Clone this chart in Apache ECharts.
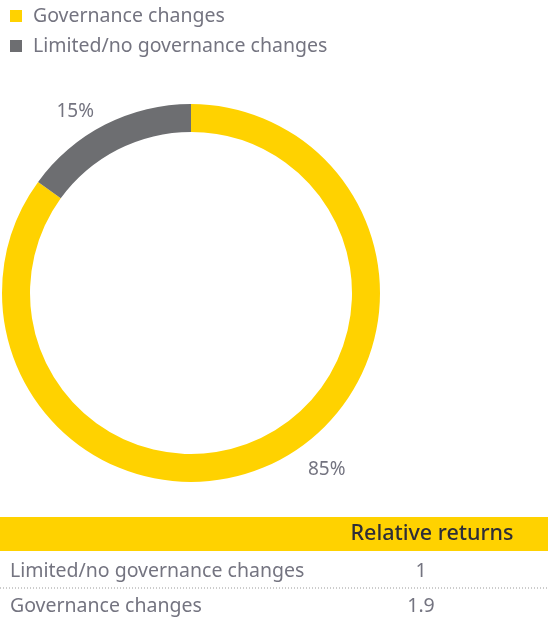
<!DOCTYPE html>
<html><head><meta charset="utf-8">
<script src="https://cdn.jsdelivr.net/npm/echarts@6/dist/echarts.min.js"></script>
<style>html,body{margin:0;padding:0;background:#fff}#c{width:548px;height:620px}</style>
</head><body><div id="c"></div>
<script>
var categories = ['Governance changes', 'Limited/no governance changes'];
var shares = [85, 15];
var colors = ['#FFD200', '#6D6E71'];
var tableHeader = 'Relative returns';
var tableRows = ['Limited/no governance changes', 'Governance changes'];
var tableValues = ['1', '1.9'];

var FONT = 'Noto Sans';
var labelOffsets = [[18,-8],[2,3]];
var chart = echarts.init(document.getElementById('c'));
var graphics = [];
graphics.push({type:'rect', shape:{x:0,y:517,width:548,height:34}, style:{fill:'#FFD200'}});
graphics.push({type:'text', x:432, y:534, style:{text:tableHeader, font:'500 21.5px "'+FONT+'"', fill:'#2e2e38', textAlign:'center', textVerticalAlign:'middle'}});
var rowY = [571, 606];
tableRows.forEach(function(r,i){
  graphics.push({type:'text', x:10, y:rowY[i], style:{text:r, font:'19.5px "'+FONT+'"', fill:'#747480', textAlign:'left', textVerticalAlign:'middle'}});
  graphics.push({type:'text', x:421, y:rowY[i], style:{text:tableValues[i], font:'19.5px "'+FONT+'"', fill:'#747480', textAlign:'center', textVerticalAlign:'middle'}});
});
graphics.push({type:'line', shape:{x1:0,y1:588,x2:548,y2:588}, style:{stroke:'#999',lineWidth:1,lineDash:[1,2]}});

chart.setOption({
  animation:false,
  color: colors,
  legend:{
    orient:'vertical', left:5, top:1, itemWidth:12, itemHeight:12, itemGap:10,
    icon:'rect',
    textStyle:{fontFamily:FONT, fontSize:19.5, color:'#747480', padding:[0,0,0,6]},
    data: categories
  },
  graphic: graphics,
  series:[{
    type:'pie', center:[191,293], radius:[161,189], startAngle:90, clockwise:true,
    data: categories.map(function(c,i){return {name:c, value:shares[i], label:{offset:labelOffsets[i]}};}),
    label:{show:true, position:'outside', formatter:'{c}%', fontFamily:FONT, fontSize:19, color:'#747480'},
    labelLine:{show:false, length:18, length2:0},
    emphasis:{disabled:true},
    silent:true
  }]
});
</script></body></html>
